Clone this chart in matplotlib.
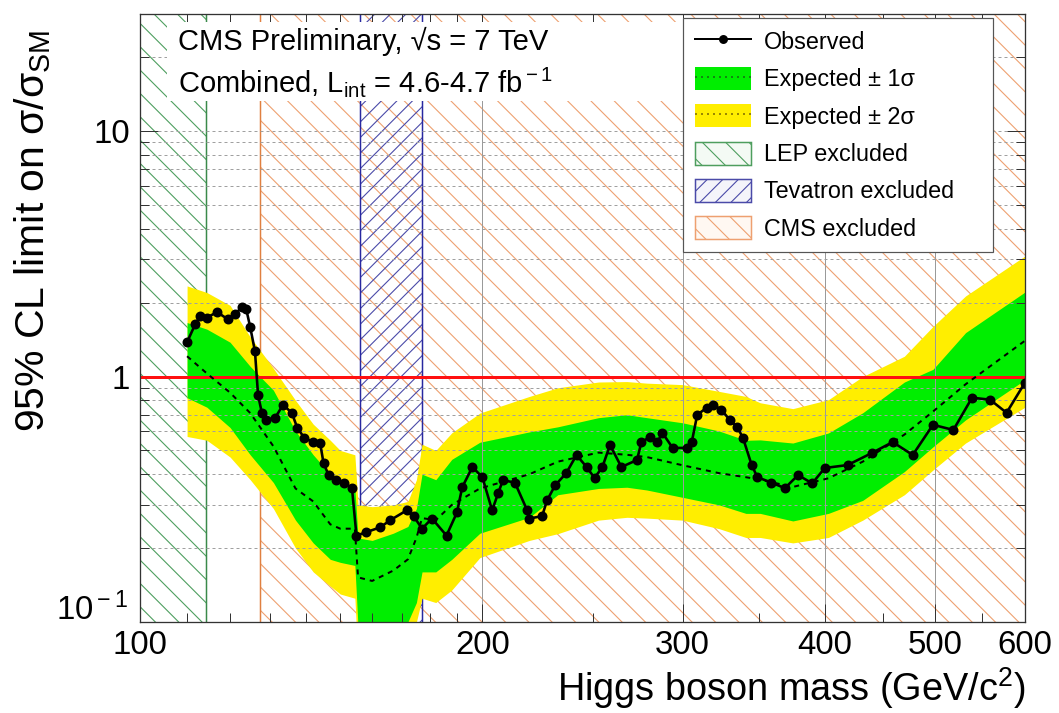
import numpy as np
import matplotlib
matplotlib.use("Agg")
import matplotlib.pyplot as plt
from matplotlib.lines import Line2D
from matplotlib.patches import Patch, Rectangle
from matplotlib.ticker import FixedLocator, FixedFormatter, NullFormatter

# ---------------- data ----------------
obs_mass = [110, 111.8, 112.9, 114.5, 116.9, 119.5, 121.2, 123, 124, 125, 126.2, 127, 128, 129,
            131.5, 133.6, 136, 137.5, 139.5, 142, 144, 145, 146.5, 148.6, 151, 153.6, 155, 158,
            162.6, 166, 171.6, 174, 177, 180.6, 186,
            190, 192, 196, 200, 204, 206.5, 208.5, 213.6, 219, 220, 225.7, 228, 231.7, 237,
            242, 247, 251, 255, 259, 265, 273.5, 276, 281, 285, 288, 294, 302.5, 305.6, 309,
            315, 319, 324.5, 330, 335, 339, 345, 349, 359, 369, 379, 390, 400, 419, 440, 459,
            478, 498, 519, 539, 559, 578, 600]
obs_limit = [1.38, 1.63, 1.76, 1.74, 1.83, 1.71, 1.80, 1.92, 1.88, 1.59, 1.27, 0.84, 0.71, 0.667,
             0.68, 0.768, 0.71, 0.618, 0.562, 0.541, 0.537, 0.444, 0.397, 0.378, 0.37, 0.351,
             0.225, 0.232, 0.243, 0.26,
             0.285, 0.27, 0.24, 0.264, 0.225, 0.28, 0.354, 0.428, 0.389, 0.285, 0.335, 0.378,
             0.37, 0.285, 0.264, 0.27, 0.313, 0.36, 0.404, 0.479, 0.428, 0.386, 0.428, 0.526,
             0.428, 0.457, 0.541, 0.568, 0.541, 0.589, 0.512, 0.512, 0.541, 0.699, 0.746, 0.768,
             0.732, 0.666, 0.624, 0.562, 0.436, 0.389, 0.37, 0.351, 0.397, 0.367, 0.424, 0.436,
             0.488, 0.541, 0.479, 0.636, 0.606, 0.82, 0.805, 0.712, 0.945]

band_mass = [110, 114.5, 120, 125, 131, 137, 142, 147, 150, 154.5, 155.5, 160, 167, 172, 175,
             177, 182, 188, 199, 220, 233, 253, 268, 279, 300, 323, 341, 351, 375, 403, 432,
             470, 498, 532, 600]
exp_median = [1.21, 1.03, 0.86, 0.71, 0.52, 0.35, 0.31, 0.25, 0.24, 0.24, 0.152, 0.147, 0.162,
              0.18, 0.22, 0.265, 0.26, 0.30, 0.35, 0.40, 0.45, 0.49, 0.48, 0.47, 0.435, 0.404,
              0.389, 0.38, 0.355, 0.385, 0.45, 0.58, 0.72, 0.93, 1.40]
exp_1s_lo = [0.82, 0.75, 0.62, 0.48, 0.37, 0.26, 0.21, 0.18, 0.175, 0.17, 0.095, 0.095, 0.097,
             0.10, 0.12, 0.16, 0.16, 0.18, 0.23, 0.267, 0.33, 0.35, 0.354, 0.345, 0.322, 0.30,
             0.277, 0.277, 0.258, 0.277, 0.313, 0.41, 0.517, 0.666, 0.97]
exp_1s_hi = [1.66, 1.56, 1.38, 1.10, 0.88, 0.60, 0.48, 0.40, 0.36, 0.35, 0.22, 0.215, 0.23,
             0.245, 0.29, 0.40, 0.38, 0.46, 0.54, 0.595, 0.624, 0.68, 0.699, 0.68, 0.648, 0.60,
             0.55, 0.552, 0.536, 0.589, 0.712, 0.95, 1.07, 1.51, 2.21]
exp_2s_lo = [0.57, 0.55, 0.47, 0.38, 0.29, 0.20, 0.16, 0.14, 0.13, 0.125, 0.07, 0.07, 0.075,
             0.085, 0.10, 0.125, 0.12, 0.135, 0.183, 0.215, 0.229, 0.26, 0.267, 0.265, 0.26,
             0.24, 0.221, 0.221, 0.21, 0.221, 0.26, 0.33, 0.416, 0.536, 0.75]
exp_2s_hi = [2.34, 2.20, 1.95, 1.45, 1.08, 0.80, 0.64, 0.55, 0.50, 0.48, 0.30, 0.295, 0.30,
             0.31, 0.38, 0.53, 0.50, 0.59, 0.71, 0.83, 0.90, 0.95, 0.954, 0.94, 0.927, 0.87,
             0.83, 0.782, 0.74, 0.805, 1.0, 1.21, 1.6, 2.13, 3.1]

lep_range = [100, 114.4]
tevatron_range = [156, 177]
cms_range = [127.5, 600]

x_ticks = [100, 200, 300, 400, 500, 600]
x_ticklabels = ["100", "200", "300", "400", "500", "600"]
y_ticks = [0.1, 1, 10]
y_ticklabels = [r"10$^{\rm -1}$", "1", "10"]

# ---------------- style ----------------
DPI = 140
PT = 72.0 / DPI  # points per pixel

plt.rcParams['font.family'] = ['Liberation Sans', 'DejaVu Sans']
plt.rcParams['mathtext.fontset'] = 'custom'
plt.rcParams['mathtext.rm'] = 'Liberation Sans'
plt.rcParams['mathtext.it'] = 'Liberation Sans:italic'
plt.rcParams['mathtext.bf'] = 'Liberation Sans:bold'
plt.rcParams['hatch.linewidth'] = 1.1 * PT

GREEN = '#00ee00'
YELLOW = '#ffee00'
LEP_C = '#4e9e5e'
TEV_C = '#4a4aa8'
CMS_C = '#eea070'

fig = plt.figure(figsize=(1059 / DPI, 713 / DPI), dpi=DPI)
ax = fig.add_axes([140 / 1059, 1 - 622 / 713, 885 / 1059, 608 / 713])
ax.set_xscale('log')
ax.set_yscale('log')
ax.set_xlim(100, 600)
ax.set_ylim(0.1, 30)

# exclusion regions (hatched)
ax.axvspan(lep_range[0], lep_range[1], facecolor='none', edgecolor=LEP_C,
           hatch='\\\\', lw=0, zorder=1.0)
ax.axvspan(cms_range[0], cms_range[1], facecolor='none', edgecolor=CMS_C,
           hatch='\\\\', lw=0, zorder=1.0)
ax.axvspan(tevatron_range[0], tevatron_range[1], facecolor='none', edgecolor=TEV_C,
           hatch='///', lw=0, zorder=1.05)
ax.axvline(lep_range[1], color='#3a8a4a', lw=1.5 * PT, zorder=1.1)
ax.axvline(cms_range[0], color='#e08040', lw=1.5 * PT, zorder=1.1)
for xv in tevatron_range:
    ax.axvline(xv, color='#2828a0', lw=1.5 * PT, zorder=1.1)

# expected bands
ax.fill_between(band_mass, exp_2s_lo, exp_2s_hi, color=YELLOW, lw=0, zorder=1.5)
ax.fill_between(band_mass, exp_1s_lo, exp_1s_hi, color=GREEN, lw=0, zorder=1.6)

# grid (drawn above bands)
ax.set_axisbelow(False)
ax.xaxis.grid(True, which='major', color='#9a9a9a', lw=1.0 * PT, ls='-')
ax.yaxis.grid(True, which='both', color='#a0a0a0', lw=1.0 * PT, ls=(0, (3, 3)))

# SM line
ax.axhline(1.0, color='#ff1010', lw=3 * PT, zorder=3)

# expected median and observed
ax.plot(band_mass, exp_median, color='k', lw=2 * PT, ls=(0, (2.5, 2.5)), zorder=4)
ax.plot(obs_mass, obs_limit, color='k', lw=2.6 * PT, marker='o', ms=8 * PT,
        zorder=5)

# ticks
ax.xaxis.set_major_locator(FixedLocator(x_ticks))
ax.xaxis.set_major_formatter(FixedFormatter(x_ticklabels))
x_minor = [110, 120, 130, 140, 150, 160, 170, 180, 190, 250, 350, 450, 550]
ax.xaxis.set_minor_locator(FixedLocator(x_minor))
ax.xaxis.set_minor_formatter(NullFormatter())
# the lowest y label sits in the corner, drawn separately so it clears "100"
ax.yaxis.set_major_locator(FixedLocator(y_ticks))
ax.yaxis.set_major_formatter(FixedFormatter([""] + y_ticklabels[1:]))
ax.annotate(y_ticklabels[0], xy=(0, y_ticks[0]),
            xycoords=('axes fraction', 'data'), xytext=(-6, 6),
            textcoords='offset points', ha='right', va='center', fontsize=17)
y_minor = [0.2, 0.3, 0.4, 0.5, 0.6, 0.7, 0.8, 0.9, 2, 3, 4, 5, 6, 7, 8, 9, 20, 30]
ax.yaxis.set_minor_locator(FixedLocator(y_minor))
ax.yaxis.set_minor_formatter(NullFormatter())
ax.tick_params(which='both', direction='in', top=True, right=True, width=1.0 * PT,
               color='#333333')
ax.tick_params(which='major', length=18 * PT)
ax.tick_params(which='minor', length=9 * PT)
ax.tick_params(axis='x', which='major', labelsize=17, pad=4)
ax.tick_params(axis='y', which='major', labelsize=17, pad=5)
for s in ax.spines.values():
    s.set_linewidth(1.3 * PT)
    s.set_color('#333333')
    s.set_zorder(6)

ax.set_xlabel("Higgs boson mass (GeV/c$^{\\rm 2}$)", fontsize=19.5, loc='right')
ax.xaxis.set_label_coords(1.0, -0.071)
ax.set_ylabel("95% CL limit on σ/σ$_{\\rm SM}$", fontsize=21, loc='top')
ax.yaxis.set_label_coords(-0.098, 0.975)

# header box
ax.add_patch(Rectangle((0.03, 0.857), 0.583, 0.13, transform=ax.transAxes,
                       facecolor='white', edgecolor='none', zorder=2.7))
ax.text(0.043, 0.941, "CMS Preliminary, √s = 7 TeV", transform=ax.transAxes,
        fontsize=15, va='baseline', ha='left', zorder=7)
ax.text(0.043, 0.871, "Combined, L$_{\\rm int}$ = 4.6-4.7 fb$^{\\rm -1}$",
        transform=ax.transAxes, fontsize=15, va='baseline', ha='left', zorder=7)

# legend
h_obs = Line2D([], [], color='k', lw=2 * PT, marker='o', ms=7 * PT)
h_1s = (Patch(facecolor=GREEN, edgecolor='none'),
        Line2D([], [], color='#118811', lw=2 * PT, ls=(0, (1, 2))))
h_2s = (Patch(facecolor=YELLOW, edgecolor='none'),
        Line2D([], [], color='#998800', lw=2 * PT, ls=(0, (1, 2))))
h_lep = Patch(facecolor='#f4faf4', edgecolor=LEP_C, hatch='\\\\', lw=1.5 * PT)
h_tev = Patch(facecolor='#f4f4fa', edgecolor=TEV_C, hatch='///', lw=1.5 * PT)
h_cms = Patch(facecolor='#fff8f2', edgecolor=CMS_C, hatch='\\\\', lw=1.5 * PT)
leg = ax.legend([h_obs, h_1s, h_2s, h_lep, h_tev, h_cms],
                ["Observed", "Expected ± 1σ", "Expected ± 2σ", "LEP excluded",
                 "Tevatron excluded", "CMS excluded"],
                loc='upper left', bbox_to_anchor=(0.6136, 0.633, 0.35, 0.3604),
                mode='expand', fontsize=12, frameon=True, fancybox=False,
                edgecolor='#555555', framealpha=1.0, borderpad=0.5,
                labelspacing=0.55, handlelength=2.4, handleheight=1.15,
                handletextpad=0.55, borderaxespad=0.0)
leg.get_frame().set_linewidth(1.2 * PT)
leg.set_zorder(8)

fig.savefig("out.png", dpi=DPI)
